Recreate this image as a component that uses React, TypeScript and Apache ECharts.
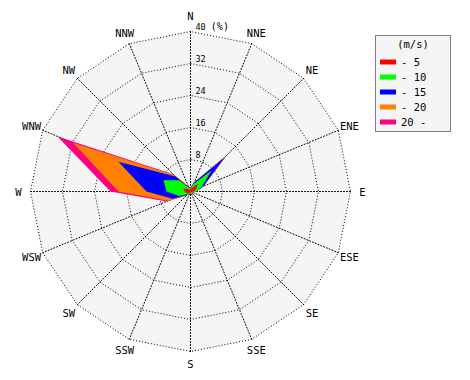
import React, { useEffect, useRef } from "react";
import * as echarts from "echarts";

const directions = ["N", "NNE", "NE", "ENE", "E", "ESE", "SE", "SSE", "S", "SSW", "SW", "WSW", "W", "WNW", "NW", "NNW"];
const speedClasses = ["- 5", "- 10", "- 15", "- 20", "20 -"];
const classColors = ["#ff0000", "#00ff00", "#0000ff", "#ff8000", "#ff0080"];
const radialTicks = [0, 8, 16, 24, 32, 40];

// frequency (%) per direction, per speed class
const s5 = [0.5, 1.0, 2.7, 1.5, 0.8, 0.3, 0.3, 0.3, 0.3, 0.3, 0.5, 1.0, 1.5, 2.0, 1.0, 0.5];
const s10 = [0.3, 1.0, 4.8, 1.5, 0.7, 0.2, 0.2, 0.2, 0.2, 0.2, 0.5, 2.0, 4.5, 5.3, 3.0, 0.5];
const s15 = [0.2, 0.5, 4.7, 0.5, 0.0, 0.0, 0.0, 0.0, 0.0, 0.0, 0.2, 1.8, 5.0, 12.2, 1.3, 0.2];
const s20 = [0.0, 0.0, 0.3, 0.0, 0.0, 0.0, 0.0, 0.0, 0.0, 0.0, 0.1, 1.2, 7.0, 12.2, 0.5, 0.1];
const s20p = [0.0, 0.0, 0.3, 0.0, 0.0, 0.0, 0.0, 0.0, 0.0, 0.0, 0.1, 0.5, 2.0, 4.3, 0.3, 0.1];

const classData = [s5, s10, s15, s20, s20p];

export default function App() {
  const ref = useRef<HTMLDivElement>(null);
  useEffect(() => {
    if (!ref.current) return;
    const chart = echarts.init(ref.current, undefined, { renderer: "svg" });
    // radar lays indicators counter-clockwise; reorder so compass runs clockwise
    const order = [0, ...Array.from({ length: directions.length - 1 }, (_, i) => directions.length - 1 - i)];
    const maxTick = radialTicks[radialTicks.length - 1];
    const indicator = order.map((k, i) => {
      const ind: any = { name: directions[k], min: 0, max: maxTick };
      if (i === 0) ind.axisLabel = { show: true };
      return ind;
    });
    const cumulative: number[][] = [];
    classData.forEach((arr, c) => {
      cumulative.push(arr.map((v, d) => v + (c > 0 ? cumulative[c - 1][d] : 0)));
    });
    const mono = "DejaVu Sans Mono";
    const series: any[] = [];
    for (let c = classData.length - 1; c >= 0; c--) {
      series.push({
        type: "radar",
        name: speedClasses[c],
        symbol: "none",
        silent: true,
        z: 2 + (classData.length - c),
        lineStyle: { width: 0, color: classColors[c] },
        itemStyle: { color: classColors[c] },
        areaStyle: { color: classColors[c], opacity: 1 },
        data: [{ value: order.map((k) => cumulative[c][k]), name: speedClasses[c] }],
      });
    }
    chart.setOption({
      animation: false,
      backgroundColor: "#ffffff",
      textStyle: { fontFamily: mono },
      legend: {
        orient: "vertical",
        left: 375,
        top: 51,
        icon: "rect",
        itemWidth: 16,
        itemHeight: 5,
        itemGap: 3,
        data: speedClasses,
        textStyle: { fontFamily: mono, fontSize: 10.5, color: "#000", lineHeight: 12 },
        selectedMode: false,
        z: 10,
      },
      graphic: [
        {
          type: "rect",
          shape: { x: 375.5, y: 35.5, width: 75, height: 96 },
          style: { fill: "#f5f5f5", stroke: "#000", lineWidth: 1, lineDash: [1, 1] },
          z: 1,
        },
        {
          type: "text",
          x: 413,
          y: 44,
          style: { text: "(m/s)", fontFamily: mono, fontSize: 10.5, fill: "#000", align: "center", verticalAlign: "middle" },
          z: 2,
        },
      ],
      radar: {
        center: [190.5, 191.5],
        radius: 160,
        startAngle: 90,
        shape: "polygon",
        splitNumber: radialTicks.length - 1,
        indicator,
        axisName: { color: "#000", fontFamily: mono, fontSize: 10.5, align: "center", verticalAlign: "middle" },
        nameGap: 12,
        axisLine: { lineStyle: { color: "#000", type: [1, 2], width: 1 } },
        splitLine: { lineStyle: { color: "#000", type: [1, 2], width: 1 } },
        splitArea: { show: true, areaStyle: { color: ["#f5f5f5"] } },
        axisTick: { show: false },
        axisLabel: {
          show: false,
          color: "#000",
          fontFamily: mono,
          fontSize: 8.5,
          margin: -5,
          align: "left",
          verticalAlign: "bottom",
          formatter: (v: number) => (v === 0 ? "" : v === maxTick ? `${v} {p|(%)}` : `${v}`),
          rich: { p: { fontFamily: mono, fontSize: 10, color: "#000" } },
        },
      },
      series,
    });
    return () => chart.dispose();
  }, []);
  return <div ref={ref} style={{ position: "fixed", left: 0, top: 0, width: 470, height: 380 }} />;
}
